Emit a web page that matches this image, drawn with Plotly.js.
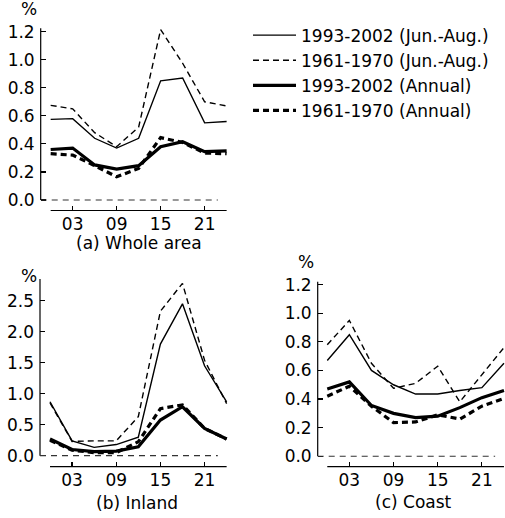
<!DOCTYPE html>
<html><head><meta charset="utf-8">
<script src="https://cdn.plot.ly/plotly-3.0.1.min.js"></script>
<style>html,body{margin:0;padding:0;background:#fff}#chart{width:505px;height:518px}</style>
</head><body><div id="chart"></div>
<script>
// ---- data ----
const hours = [0, 3, 6, 9, 12, 15, 18, 21, 24];
const tickHours = [3, 9, 15, 21];
const tickText = ["03", "09", "15", "21"];
const seriesNames = ["1993-2002 (Jun.-Aug.)", "1961-1970 (Jun.-Aug.)", "1993-2002 (Annual)", "1961-1970 (Annual)"];
const panelTitles = ["(a) Whole area", "(b) Inland", "(c) Coast"];

const wholeJJA9302 = [0.575, 0.58, 0.44, 0.37, 0.44, 0.85, 0.87, 0.55, 0.56];
const wholeJJA6170 = [0.675, 0.65, 0.48, 0.38, 0.52, 1.215, 0.975, 0.70, 0.67];
const wholeAnn9302 = [0.36, 0.37, 0.25, 0.22, 0.245, 0.38, 0.415, 0.345, 0.35];
const wholeAnn6170 = [0.33, 0.32, 0.245, 0.165, 0.225, 0.445, 0.41, 0.335, 0.33];

const inlandJJA9302 = [0.87, 0.24, 0.135, 0.18, 0.30, 1.80, 2.45, 1.45, 0.87];
const inlandJJA6170 = [0.85, 0.23, 0.24, 0.24, 0.63, 2.33, 2.78, 1.54, 0.84];
const inlandAnn9302 = [0.27, 0.10, 0.065, 0.075, 0.145, 0.575, 0.79, 0.44, 0.27];
const inlandAnn6170 = [0.25, 0.09, 0.05, 0.05, 0.225, 0.76, 0.82, 0.44, 0.27];

const coastJJA9302 = [0.67, 0.85, 0.60, 0.50, 0.435, 0.435, 0.46, 0.48, 0.65];
const coastJJA6170 = [0.78, 0.95, 0.65, 0.475, 0.51, 0.63, 0.38, 0.57, 0.76];
const coastAnn9302 = [0.47, 0.52, 0.355, 0.30, 0.27, 0.28, 0.34, 0.41, 0.46];
const coastAnn6170 = [0.42, 0.49, 0.35, 0.235, 0.24, 0.29, 0.26, 0.35, 0.405];

// ---- layout helpers ----
const W = 505, H = 518;
const FONT = "DejaVu Sans, Liberation Sans, Arial, sans-serif";
const FS = 17;
const INK = "#000";
function xdom(p0, p1) { return [p0 / W, Math.min(1, p1 / W)]; }
function ydom(pTop, pBottom) { return [1 - pBottom / H, 1 - pTop / H]; }

const styles = [
  {width: 1.4, dash: "solid"},
  {width: 1.4, dash: "6px,4px"},
  {width: 3.2, dash: "solid"},
  {width: 3.2, dash: "6px,4px"}
];

const panels = [
  {data: [wholeJJA9302, wholeJJA6170, wholeAnn9302, wholeAnn6170], xr: [-1.36, 24.2], yr: [-0.075, 1.25],
   xd: xdom(40.7, 228.1), yd: ydom(24.7, 210.5), ytv: [0, 0.2, 0.4, 0.6, 0.8, 1.0, 1.2], ytop: 1.225,
   pct: [29, 21]},
  {data: [inlandJJA9302, inlandJJA6170, inlandAnn9302, inlandAnn6170], xr: [-1.36, 24.2], yr: [-0.177, 2.9],
   xd: xdom(40, 228.1), yd: ydom(275.9, 466.7), ytv: [0, 0.5, 1.0, 1.5, 2.0, 2.5], ytop: 2.85,
   pct: [29, 288]},
  {data: [coastJJA9302, coastJJA6170, coastAnn9302, coastAnn6170], xr: [-1.3, 24.14], yr: [-0.073, 1.25],
   xd: xdom(317.7, 505), yd: ydom(277.5, 466.7), ytv: [0, 0.2, 0.4, 0.6, 0.8, 1.0, 1.2], ytop: 1.22,
   pct: [306, 274]}
];

const traces = [];
const layout = {
  width: W, height: H,
  margin: {l: 0, r: 0, t: 0, b: 0},
  paper_bgcolor: "#fff", plot_bgcolor: "#fff",
  font: {family: FONT, size: FS, color: INK},
  showlegend: true,
  legend: {x: 248 / W, y: 0.966, xanchor: "left", yanchor: "top", bgcolor: "rgba(0,0,0,0)",
           font: {family: FONT, size: FS, color: INK}, itemwidth: 43, tracegroupgap: 0},
  shapes: [], annotations: []
};

panels.forEach((p, i) => {
  const xa = i === 0 ? "x" : "x" + (i + 1);
  const ya = i === 0 ? "y" : "y" + (i + 1);
  p.data.forEach((vals, k) => {
    traces.push({
      x: hours, y: vals, type: "scatter", mode: "lines", xaxis: xa, yaxis: ya,
      name: seriesNames[k], showlegend: i === 0,
      line: {color: INK, width: styles[k].width, dash: styles[k].dash}
    });
  });
  const xKey = i === 0 ? "xaxis" : "xaxis" + (i + 1);
  const yKey = i === 0 ? "yaxis" : "yaxis" + (i + 1);
  layout[xKey] = {
    domain: p.xd, range: p.xr, anchor: ya, showgrid: false, zeroline: false, showline: false,
    tickmode: "array", tickvals: tickHours, ticktext: tickText, ticks: "inside", ticklen: 5,
    tickwidth: 1.2, tickcolor: INK, tickfont: {family: FONT, size: FS, color: INK}, ticklabelstandoff: 1,
    fixedrange: true
  };
  layout[yKey] = {
    domain: p.yd, range: p.yr, anchor: xa, showgrid: false, zeroline: false, showline: false,
    tickmode: "array", tickvals: p.ytv, tickformat: ".1f", ticks: "inside", ticklen: 5,
    tickwidth: 1.2, tickcolor: INK, tickfont: {family: FONT, size: FS, color: INK}, ticklabelstandoff: 5,
    fixedrange: true
  };
  // y-axis line (from 0 up), x-axis line (0..24), dashed zero reference
  layout.shapes.push({type: "line", xref: xa + " domain", yref: ya, x0: 0, x1: 0, y0: 0, y1: p.ytop,
                      line: {color: INK, width: 1.2}});
  layout.shapes.push({type: "line", xref: xa, yref: ya + " domain", x0: 0, x1: 24, y0: 0, y1: 0,
                      line: {color: INK, width: 1.2}});
  layout.shapes.push({type: "line", xref: xa, yref: ya, x0: p.xr[0], x1: 22.8, y0: 0, y1: 0,
                      line: {color: "#333", width: 1.2, dash: "6px,5px"}});
  // "%" unit label (bottom-anchored so it sits clear of the top tick label)
  layout.annotations.push({xref: "paper", yref: "paper", x: p.pct[0] / W, y: 1 - p.pct[1] / H,
                           xanchor: "center", yanchor: "bottom", text: "%", showarrow: false,
                           font: {family: FONT, size: FS, color: INK}});
});

// panel captions
const capPos = [[138.5, 243], [136.5, 503], [413, 502]];
panelTitles.forEach((t, i) => {
  layout.annotations.push({xref: "paper", yref: "paper", x: capPos[i][0] / W, y: 1 - capPos[i][1] / H, text: t,
    showarrow: false, xanchor: "center", yanchor: "middle", font: {family: FONT, size: FS, color: INK}});
});

Plotly.newPlot("chart", traces, layout, {displayModeBar: false, staticPlot: true});
</script>
</body></html>
